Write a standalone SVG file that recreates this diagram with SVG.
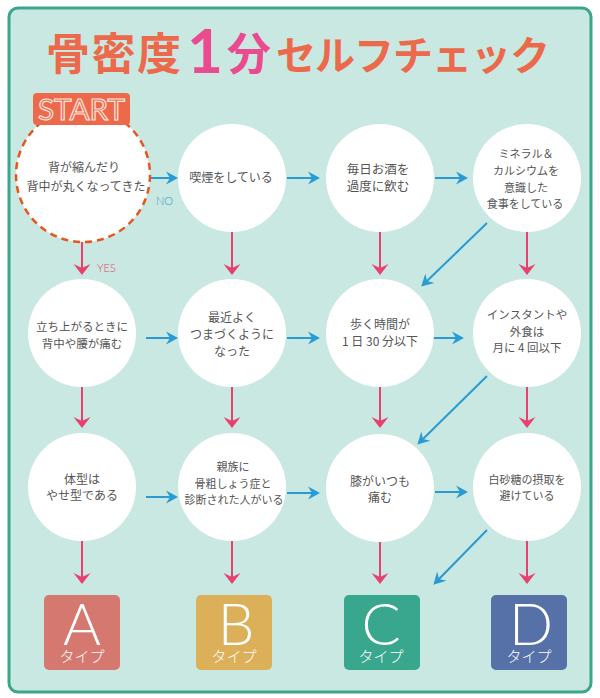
<svg xmlns="http://www.w3.org/2000/svg" width="600" height="698" viewBox="0 0 600 698">
<style>
.t{font-family:"Noto Sans CJK JP","Noto Sans",sans-serif;fill:#555;text-anchor:middle}
.c{fill:#fff}
.b{stroke:#2a9ad3;stroke-width:2;fill:none}
.p{stroke:#e8416f;stroke-width:2;fill:none}
.ttl{font-family:"Noto Sans CJK JP",sans-serif;font-weight:bold}
.big{font-family:"Lato","Open Sans",sans-serif;font-weight:300;fill:#fff;text-anchor:middle;font-size:58px}
.typ{font-family:"Noto Sans CJK JP",sans-serif;font-weight:300;fill:#fff;text-anchor:middle;font-size:15px}
</style>
<defs>
<marker id="ab" markerUnits="userSpaceOnUse" viewBox="-5 -8 14 16" refX="0" refY="0" markerWidth="14" markerHeight="16" orient="auto" overflow="visible">
<path d="M8,0 L-4,-6.5 L0,0 L-4,6.5 Z" fill="#2a9ad3"/>
</marker>
<marker id="ap" markerUnits="userSpaceOnUse" viewBox="-5 -9 14 18" refX="0" refY="0" markerWidth="14" markerHeight="18" orient="auto" overflow="visible">
<path d="M7,0 L-4,-8.5 L0,0 L-4,8.5 Z" fill="#e8416f"/>
</marker>
</defs>
<rect x="9" y="8" width="582" height="684" rx="9" fill="#c8e8e1" stroke="#3aa78b" stroke-width="3"/>
<g id="title">
<text class="ttl" x="46" y="70" font-size="44" fill="#ec6a4b" textLength="135" lengthAdjust="spacing">骨密度</text>
<text x="205" y="73" font-family="Lato,'Liberation Sans',sans-serif" font-weight="bold" font-size="62" fill="#ea4b8f" text-anchor="middle">1</text>
<text class="ttl" x="227" y="70" font-size="44" fill="#ea4b8f">分</text>
<text class="ttl" x="276" y="70" font-size="40" fill="#ec6a4b" textLength="274" lengthAdjust="spacing">セルフチェック</text>
</g>
<g id="connectors">
<line class="p" x1="82" y1="230" x2="82" y2="268" marker-end="url(#ap)"/>
<line class="p" x1="232" y1="231" x2="232" y2="268" marker-end="url(#ap)"/>
<line class="p" x1="380" y1="231" x2="380" y2="268" marker-end="url(#ap)"/>
<line class="p" x1="527" y1="232" x2="527" y2="268" marker-end="url(#ap)"/>
<line class="p" x1="82" y1="387" x2="82" y2="421" marker-end="url(#ap)"/>
<line class="p" x1="232" y1="387" x2="232" y2="421" marker-end="url(#ap)"/>
<line class="p" x1="380" y1="387" x2="380" y2="421" marker-end="url(#ap)"/>
<line class="p" x1="527" y1="387" x2="527" y2="421" marker-end="url(#ap)"/>
<line class="p" x1="82" y1="541" x2="82" y2="577" marker-end="url(#ap)"/>
<line class="p" x1="232" y1="541" x2="232" y2="577" marker-end="url(#ap)"/>
<line class="p" x1="380" y1="541" x2="380" y2="577" marker-end="url(#ap)"/>
<line class="p" x1="527" y1="541" x2="527" y2="577" marker-end="url(#ap)"/>
<line class="b" x1="146" y1="178" x2="170" y2="178" marker-end="url(#ab)"/>
<line class="b" x1="287" y1="178" x2="312" y2="178" marker-end="url(#ab)"/>
<line class="b" x1="435" y1="178" x2="460" y2="178" marker-end="url(#ab)"/>
<line class="b" x1="146" y1="338" x2="170" y2="338" marker-end="url(#ab)"/>
<line class="b" x1="287" y1="338" x2="312" y2="338" marker-end="url(#ab)"/>
<line class="b" x1="431" y1="338" x2="456" y2="338" marker-end="url(#ab)"/>
<line class="b" x1="146" y1="497" x2="170" y2="497" marker-end="url(#ab)"/>
<line class="b" x1="287" y1="493" x2="312" y2="493" marker-end="url(#ab)"/>
<line class="b" x1="435" y1="492" x2="460" y2="492" marker-end="url(#ab)"/>
<line class="b" x1="487" y1="223" x2="427" y2="281" marker-end="url(#ab)"/>
<line class="b" x1="487" y1="376" x2="423" y2="439" marker-end="url(#ab)"/>
<line class="b" x1="487" y1="530" x2="439" y2="579" marker-end="url(#ab)"/>
<text x="156" y="205" font-family="Lato,'Liberation Sans',sans-serif" font-weight="300" font-size="11" fill="#2a9ad3">NO</text>
<text x="97" y="272" font-family="Lato,'Liberation Sans',sans-serif" font-weight="300" font-size="11" fill="#e8416f">YES</text>
</g>
<g id="n-start">
<circle cx="83" cy="175" r="67" fill="#fff" stroke="#e9541f" stroke-width="2.5" stroke-dasharray="7 5"/>
<rect x="33" y="93" width="97" height="32" rx="4" fill="#ec6a4b"/>
<text x="81.5" y="120" font-family="Lato,'Liberation Sans',sans-serif" font-size="28" fill="none" stroke="#fde9e0" stroke-width="1.1" text-anchor="middle" textLength="87" lengthAdjust="spacingAndGlyphs">START</text>
<text class="t" font-size="12"><tspan x="84" y="172">背が縮んだり</tspan><tspan x="86" y="191">背中が丸くなってきた</tspan></text>
</g>
<g id="n-smoke">
<circle class="c" cx="232" cy="178" r="54"/>
<text class="t" font-size="12" x="231" y="182">喫煙をしている</text>
</g>
<g id="n-drink">
<circle class="c" cx="380" cy="178" r="54"/>
<text class="t" font-size="12.5"><tspan x="378" y="174">毎日お酒を</tspan><tspan x="378" y="191">過度に飲む</tspan></text>
</g>
<g id="n-mineral">
<circle class="c" cx="527" cy="178" r="54"/>
<text class="t" font-size="11"><tspan x="526" y="158">ミネラル＆</tspan><tspan x="526" y="175">カルシウムを</tspan><tspan x="526" y="192">意識した</tspan><tspan x="525" y="208">食事をしている</tspan></text>
</g>
<g id="n-standup">
<circle class="c" cx="82" cy="333" r="54"/>
<text class="t" font-size="11.5"><tspan x="82" y="331">立ち上がるときに</tspan><tspan x="82" y="348">背中や腰が痛む</tspan></text>
</g>
<g id="n-trip">
<circle class="c" cx="232" cy="333" r="54"/>
<text class="t" font-size="12"><tspan x="232" y="322">最近よく</tspan><tspan x="232" y="339">つまづくように</tspan><tspan x="232" y="356">なった</tspan></text>
</g>
<g id="n-walk">
<circle class="c" cx="380" cy="333" r="54"/>
<text class="t" font-size="12"><tspan x="380" y="329">歩く時間が</tspan><tspan x="380" y="346">1 日 30 分以下</tspan></text>
</g>
<g id="n-instant">
<circle class="c" cx="527" cy="333" r="54"/>
<text class="t" font-size="11.5"><tspan x="527" y="319">インスタントや</tspan><tspan x="527" y="336">外食は</tspan><tspan x="527" y="352">月に 4 回以下</tspan></text>
</g>
<g id="n-thin">
<circle class="c" cx="82" cy="487" r="54"/>
<text class="t" font-size="12"><tspan x="82" y="484">体型は</tspan><tspan x="82" y="500">やせ型である</tspan></text>
</g>
<g id="n-family">
<circle class="c" cx="232" cy="487" r="54"/>
<text class="t" font-size="11"><tspan x="233" y="471">親族に</tspan><tspan x="233" y="488">骨粗しょう症と</tspan><tspan x="234" y="504">診断された人がいる</tspan></text>
</g>
<g id="n-knee">
<circle class="c" cx="380" cy="488" r="54"/>
<text class="t" font-size="12"><tspan x="380" y="486">膝がいつも</tspan><tspan x="380" y="502">痛む</tspan></text>
</g>
<g id="n-sugar">
<circle class="c" cx="527" cy="487" r="54"/>
<text class="t" font-size="11"><tspan x="527" y="484">白砂糖の摂取を</tspan><tspan x="527" y="500">避けている</tspan></text>
</g>
<g id="type-a">
<rect x="44" y="595" width="76" height="75" rx="5" fill="#d57870"/>
<text class="big" x="82" y="645">A</text>
<text class="typ" x="82" y="662">タイプ</text>
</g>
<g id="type-b">
<rect x="196" y="595" width="76" height="75" rx="5" fill="#dbb059"/>
<text class="big" x="236" y="645">B</text>
<text class="typ" x="234" y="662">タイプ</text>
</g>
<g id="type-c">
<rect x="344" y="595" width="76" height="75" rx="5" fill="#38a78e"/>
<text class="big" x="381" y="645">C</text>
<text class="typ" x="381" y="662">タイプ</text>
</g>
<g id="type-d">
<rect x="491" y="595" width="76" height="75" rx="5" fill="#5670a8"/>
<text class="big" x="531" y="645">D</text>
<text class="typ" x="529" y="662">タイプ</text>
</g>
</svg>
